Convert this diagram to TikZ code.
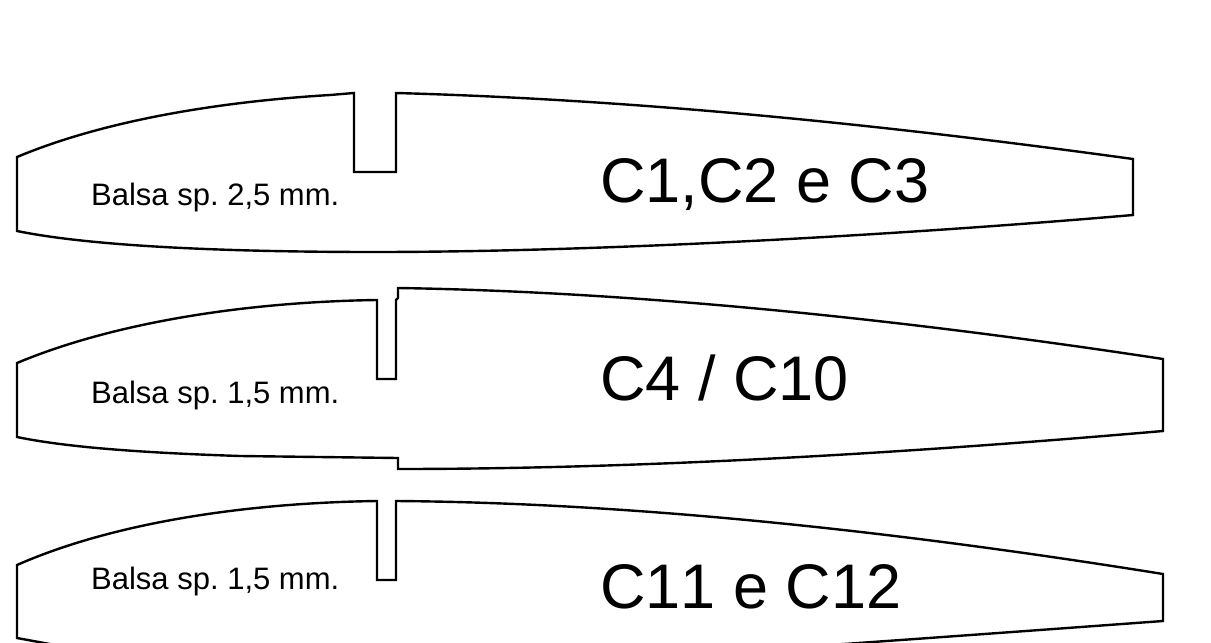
\documentclass[tikz,border=0pt]{standalone}
\usepackage{fontspec}
\setmainfont[Kerning=Off]{Liberation Sans}
\frenchspacing
\tikzset{
  rib/.style={draw=black,line width=2.4pt,line join=miter},
  small/.style={anchor=base west,inner sep=0pt,font=\fontsize{31}{33}\selectfont},
  big/.style={anchor=base west,inner sep=0pt,font=\fontsize{63}{66}\selectfont}
}
\begin{document}
\begin{tikzpicture}[x=1pt,y=-1pt]
\useasboundingbox (0,0) rectangle (1211,643);
\clip (0,0) rectangle (1211,643);
% rib 1
\draw[rib] (17,157) .. controls (110,118) and (230,101) .. (330,95) -- (354,93) -- (354,172) -- (396,172) -- (396,93)
  .. controls (650,100) and (900,127) .. (1133,159) -- (1133,215)
  .. controls (900,235) and (600,252) .. (375,252)
  .. controls (250,252) and (100,248) .. (17,231) -- cycle;
% rib 2
\draw[rib] (17,363) .. controls (110,324) and (240,302) .. (377,300) -- (377,379) -- (396,379) -- (396,300) -- (398,298) -- (398,288)
  .. controls (650,292) and (920,322) .. (1163,359) -- (1163,431)
  .. controls (920,452) and (650,469) .. (398,469) -- (398,458)
  -- (240,456) .. controls (150,453) and (70,448) .. (17,437) -- cycle;
% rib 3
\draw[rib] (17,565) .. controls (110,524) and (240,503) .. (377,501) -- (377,580) -- (396,580) -- (396,501)
  .. controls (650,503) and (920,535) .. (1163,574) -- (1163,621)
  .. controls (1040,630) and (930,638) .. (830,645) -- (55,645) -- (17,638) -- cycle;
% labels
\node[small] (t1) at (91,205) {Balsa sp. 2,5 mm.};
\node[small] (t2) at (91,403) {Balsa sp. 1,5 mm.};
\node[small] (t3) at (91,589) {Balsa sp. 1,5 mm.};
\node[big] (c1) at (600,202) {C1,C2 e C3};
\node[big] (c2) at (600,400) {C4 / C10};
\node[big] (c3) at (600,608) {C11 e C12};
\end{tikzpicture}
\end{document}
